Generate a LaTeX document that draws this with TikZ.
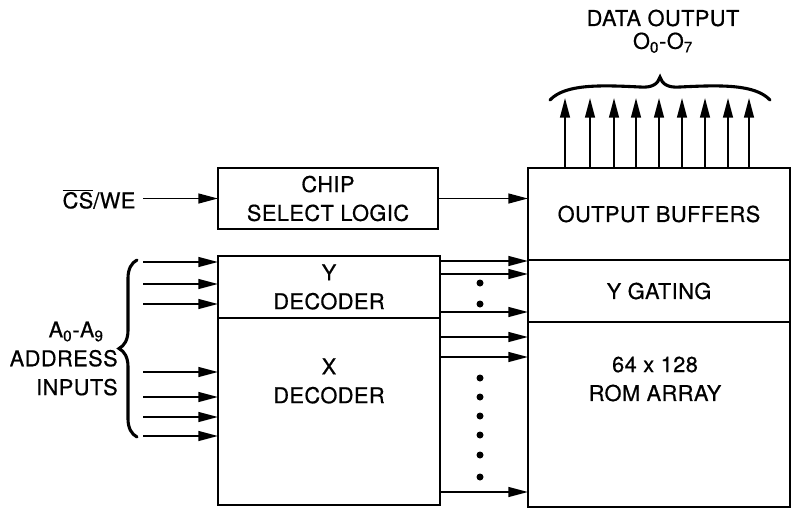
\documentclass[tikz,border=0pt]{standalone}
\usepackage{fontspec}
\setmainfont{TeX Gyre Heros}[LetterSpace=2, FakeBold=0.6]
\usetikzlibrary{arrows.meta,positioning,decorations.pathreplacing}
\newcommand{\chipfont}{\fontsize{15.5}{20.5}\selectfont}
\tikzset{
  blk/.style={draw, line width=1.3pt, minimum width=5.55cm, inner sep=0pt,
              outer sep=0pt, align=center, font=\chipfont},
  wide/.style={minimum width=6.55cm},
  txt/.style={align=center, inner sep=0pt, font=\chipfont},
  flow/.style={-{Triangle[length=14pt,width=7pt]}, line width=1.3pt},
  bracket/.style={line width=2.2pt, line cap=round},
}

\begin{document}
\begin{tikzpicture}[x=0.025cm, y=-0.025cm]
  \useasboundingbox (0,0) rectangle (795,514);
  \node[blk, minimum width=5.5cm, minimum height=1.525cm] (chipsel) at (328,198.5) {CHIP\\SELECT LOGIC};
  \node[blk, minimum height=1.55cm] (ydec) at (329,287) {Y\\DECODER};
  \node[blk, minimum height=4.675cm, below=0pt of ydec] (xdec) {};
  \node[txt] (xdectxt) at (329,381) {X\\DECODER};
  \node[blk, wide, minimum height=2.3cm] (outbuf) at (659,214) {OUTPUT BUFFERS};
  \node[blk, wide, minimum height=1.55cm, below=0pt of outbuf] (ygate) {Y GATING};
  \node[blk, wide, minimum height=4.625cm, below=0pt of ygate] (rom) {};
  \node[txt] (romtxt) at (655,379) {64 x 128\\ROM ARRAY};
  \node[txt] (cswe) at (99,199) {$\overline{\mbox{CS}}$/WE};
  \node[txt, align=right, anchor=east] (addrlbl) at (118,358.5) {A\textsubscript{0}-A\textsubscript{9}\hspace*{10pt}\\ADDRESS\\INPUTS};
  \node[txt] (dtitle) at (663,18) {DATA OUTPUT};
  \node[txt, below=4pt of dtitle] (drange) {O\textsubscript{0}-O\textsubscript{7}};
  \coordinate (csin) at (143,198.5);
  \coordinate (ain) at (143,262);
  \coordinate (dtop) at (659,98);
  \draw[flow] (csin) -- (chipsel.west);
  \draw[flow] (chipsel.east) -- (chipsel.east -| outbuf.west);
  \foreach \y in {262,284,304,372,397,417,436}
    \draw[flow] (ain |- 0,\y) -- (ydec.west |- 0,\y);
  \foreach \y in {261,274,312,337,357,492}
    \draw[flow] (ydec.east |- 0,\y) -- (rom.west |- 0,\y);
  \foreach \y in {283,304,378,397,416,435,455,477}
    \fill (480,\y) circle (3.5);
  \foreach \x in {565,590,614,636,659,682,705,728,749}
    \draw[flow] (outbuf.north -| \x,0) -- (\x,0 |- dtop);
  \draw[bracket, decorate, decoration={brace, amplitude=0.45cm}] (137,437) -- (137,260);
  \draw[bracket] (550,100) .. controls (565,84) and (600,85) .. (640,87)
    .. controls (652,88) and (658,84) .. (660,77)
    .. controls (662,84) and (668,88) .. (680,87)
    .. controls (720,85) and (755,84) .. (770,100);
\end{tikzpicture}
\end{document}
